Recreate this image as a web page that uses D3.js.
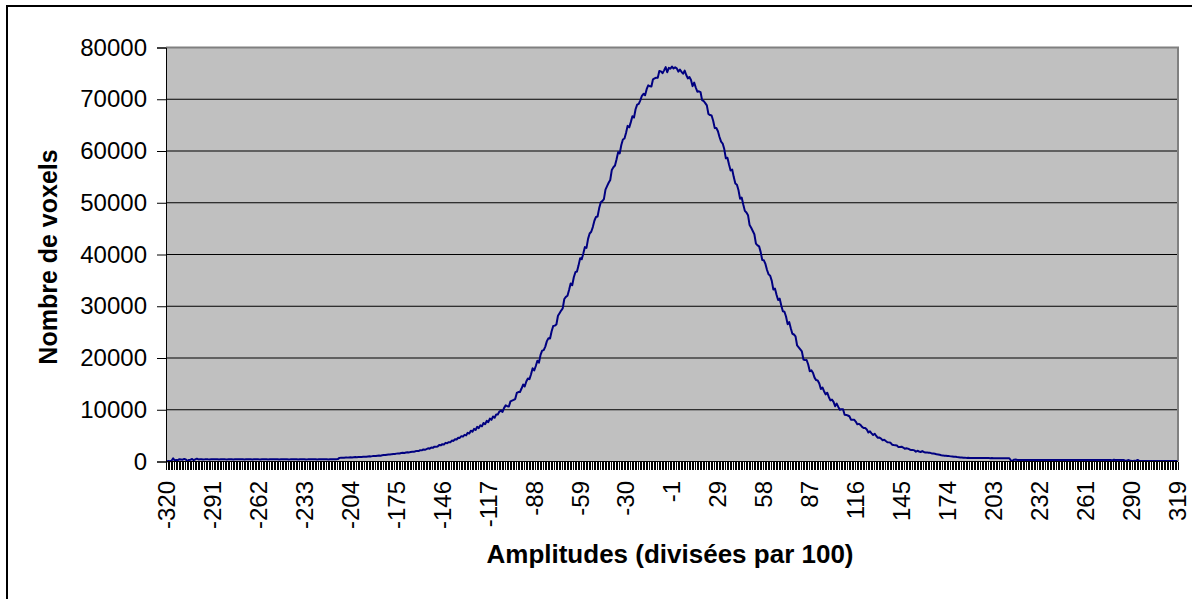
<!DOCTYPE html>
<html><head><meta charset="utf-8">
<script src="https://cdn.jsdelivr.net/npm/d3@7"></script>
<style>body{margin:0;background:#fff} svg{display:block}</style>
</head><body>
<svg id="c" width="1192" height="599"></svg>
<script>
// categories: amplitudes (divided by 100), -320..-1 and 1..319 (no 0 class)
const categories = d3.range(-320, 0).concat(d3.range(1, 320));
const tickLabels = [-320,-291,-262,-233,-204,-175,-146,-117,-88,-59,-30,-1,29,58,87,116,145,174,203,232,261,290,319];
const yTicks = [0,10000,20000,30000,40000,50000,60000,70000,80000];
const yTitle = "Nombre de voxels";
const xTitle = "Amplitudes (divisées par 100)";

// voxel counts for amplitudes -320 .. -1
const countsNeg = [
0,100,50,150,600,200,300,250,450,400,350,500,400,100,300,350,500,250,400,550,400,
420,430,410,420,440,420,410,430,420,420,
430,420,410,420,430,440,420,410,420,430,
420,410,430,420,420,440,430,420,410,420,
430,420,420,410,430,420,440,420,410,430,
420,430,420,410,420,430,420,440,430,420,
410,420,430,420,420,430,410,420,440,430,
420,420,410,430,420,430,420,410,420,440,
430,420,420,430,410,420,430,440,420,420,
430,410,420,430,420,440,450,460,
700,720,710,740,760,750,790,800,790,830,
850,830,870,890,880,910,930,920,970,1000,
990,1040,1070,1050,1110,1140,1130,1200,1250,1240,
1310,1360,1340,1420,1470,1440,1520,1570,1550,1630,
1680,1660,1740,1790,1760,1850,1890,1870,1980,2050,
2020,2190,2150,2320,2260,2380,2560,2480,2700,2640,
2870,2850,2900,3180,3120,3350,3300,3600,3530,3740,
3700,4050,3980,4300,4250,4580,4560,4900,4800,5150,
5050,5550,5400,5950,5750,6300,6100,6700,6450,7000,
6800,7450,7200,7850,7600,8300,8050,8700,8450,9100,
9100,9640,9830,9570,10360,10850,10690,10630,11620,11760,
11900,12070,13240,13410,13430,14100,14870,14490,15460,16030,
15920,16870,18030,17580,18460,19480,19100,20610,21420,21530,
22200,23260,23830,23770,25180,26170,26250,26470,28160,28660,
29160,29580,31400,31820,32030,33150,34410,34060,35600,36580,
36720,37900,39290,39070,40180,41430,41280,43020,44060,44400,
45300,46520,47250,47350,48920,50070,50310,50690,52540,53200,
53860,54400,56340,56870,57190,58420,59780,59530,61160,62220,
62420,63540,64860,64560,65580,66720,66450,68060,68950,69110,
69800,70670,71040,70770,71950,72690,72510,72460,73850,74020,
74160,74130,75470,75380,75040,75580,76220,75220,76070,75900,
76300
];
// voxel counts for amplitudes 1 .. 319
const countsPos = [
75940,76170,75970,75330,75740,75310,74930,75540,74690,74020,
74300,73710,72530,73210,72270,71460,71540,71390,69830,69660,
69250,68810,67150,66940,66860,65860,64420,64440,63820,62700,
61800,61440,60370,58590,58700,57400,56240,56410,54960,53720,
53480,52400,50760,51010,49650,48430,48120,47600,45680,45160,
44540,43920,42110,41770,41570,40460,38930,38870,38180,37000,
36160,35880,34900,33220,33430,32240,31190,31470,30140,29020,
28940,28020,26540,26950,25750,24690,24540,24180,22420,22060,
21670,21280,19700,19590,19620,18740,17440,17610,17150,16200,
15730,15660,15090,14020,14300,13580,12960,13290,12470,11800,
11960,11520,10680,11190,10550,10010,10120,10080,9040,9000,
8890,8740,8080,8050,8080,7720,7180,7270,7090,6700,
6470,6480,6190,5600,5820,5440,5120,5370,4930,4580,
4625,4430,4115,4205,3950,3725,3695,3620,3245,3170,
3125,3080,2780,2795,2850,2700,2460,2545,2485,2320,
2225,2240,2150,1910,2075,1940,1830,2010,1845,1725,
1760,1680,1670,1560,1550,1490,1380,1370,1300,1210,
1180,1120,1110,1050,1040,990,970,910,900,850,
830,780,760,720,720,700,710,700,690,700,
690,680,690,680,670,680,670,660,670,660,
650,660,650,640,650,640,650,640,630,640,
630,620,630,200,150,350,400,300,290,300,
280,290,300,290,280,290,300,310,290,280,
290,300,290,280,300,290,290,300,280,290,
300,290,280,290,300,310,290,280,290,300,
290,280,290,300,290,280,300,290,290,280,
290,300,290,280,290,300,290,280,300,290,
280,290,300,290,280,290,300,
220,330,280,300,290,280,290,300,200,150,280,200,130,120,130,110,300,120,
100,110,100,90,100,110,100,100,90,100,110,100,100,90,100,100,110,100,90,100,100,110,100,90
];
const values = countsNeg.concat(countsPos);

const FONT = "'Liberation Sans', Arial, Helvetica, sans-serif";
const svg = d3.select('#c');
const W = 1192, H = 599;
const plot = {l: 166, r: 1178, t: 47.5, b: 461.5};

// chart-area border
svg.append('rect').attr('x', 7).attr('y', 6).attr('width', W + 20).attr('height', H + 20)
  .attr('fill', '#fff').attr('stroke', '#000').attr('stroke-width', 2);

const x = d3.scaleBand().domain(categories).range([plot.l, plot.r]).padding(0);
const bw = x.bandwidth();
const y = d3.scaleLinear().domain([0, 80000]).range([plot.b, plot.t]);

// plot area
svg.append('rect').attr('x', plot.l).attr('y', plot.t).attr('width', plot.r - plot.l)
  .attr('height', plot.b - plot.t).attr('fill', '#c0c0c0');

// gridlines
svg.append('g').selectAll('line').data(yTicks.filter(v => v > 0)).join('line')
  .attr('x1', plot.l).attr('x2', plot.r)
  .attr('y1', d => y(d)).attr('y2', d => y(d))
  .attr('stroke', '#000').attr('stroke-width', 1);

// plot border (top/right gray)
svg.append('path')
  .attr('d', `M${plot.l},${plot.t}H${plot.r}V${plot.b}`)
  .attr('fill', 'none').attr('stroke', '#808080').attr('stroke-width', 2);

// data line
const line = d3.line()
  .x((d, i) => x(categories[i]) + bw / 2)
  .y(d => y(d));
svg.append('path').datum(values).attr('d', line)
  .attr('fill', 'none').attr('stroke', '#000080').attr('stroke-width', 2)
  .attr('stroke-linejoin', 'round');

// y axis
const yAxis = d3.axisLeft(y).tickValues(yTicks).tickFormat(d3.format('d')).tickSize(9).tickPadding(10);
const gy = svg.append('g').attr('transform', `translate(${plot.l},0)`).call(yAxis);
gy.select('.domain').attr('stroke', '#000').attr('stroke-width', 1);
gy.selectAll('.tick line').attr('stroke', '#000');
gy.selectAll('.tick text').attr('font-family', FONT).attr('font-size', 24).attr('fill', '#000');

// x axis: tick marks between every category
const bounds = categories.map(c => x(c)).concat([x.range()[1]]);
svg.append('g').selectAll('line').data(bounds).join('line')
  .attr('x1', d => Math.round(d) + 0.5).attr('x2', d => Math.round(d) + 0.5)
  .attr('y1', plot.b).attr('y2', plot.b + 8.5)
  .attr('stroke', '#000').attr('stroke-width', 1).attr('shape-rendering', 'crispEdges');
svg.append('line').attr('x1', plot.l).attr('x2', plot.r).attr('y1', plot.b).attr('y2', plot.b)
  .attr('stroke', '#000').attr('stroke-width', 1);

// x tick labels
svg.append('g').selectAll('text').data(tickLabels).join('text')
  .attr('transform', d => `translate(${x(d) + bw / 2},481) rotate(-90)`)
  .attr('text-anchor', 'end').attr('dy', '0.35em')
  .attr('font-family', FONT).attr('font-size', 24).attr('fill', '#000')
  .text(d => d);

// axis titles
svg.append('text').attr('transform', 'translate(48,257) rotate(-90)')
  .attr('text-anchor', 'middle').attr('dy', '0.35em')
  .attr('font-family', FONT).attr('font-size', 25).attr('font-weight', 'bold')
  .text(yTitle);
svg.append('text').attr('x', 670).attr('y', 563)
  .attr('text-anchor', 'middle')
  .attr('font-family', FONT).attr('font-size', 26).attr('font-weight', 'bold')
  .text(xTitle);
</script>
</body></html>
